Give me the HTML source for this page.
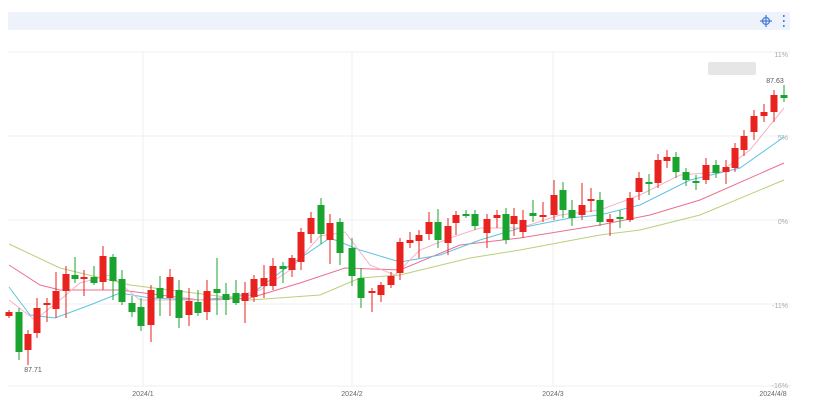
<!DOCTYPE html>
<html><head><meta charset="utf-8"><style>
html,body{margin:0;padding:0;background:#fff;width:823px;height:420px;overflow:hidden;font-family:"Liberation Sans",sans-serif}
</style></head><body>
<svg width="823" height="420" xmlns="http://www.w3.org/2000/svg" font-family="Liberation Sans, sans-serif">
<rect x="8" y="12" width="782" height="18" fill="#eef3fb"/>
<g stroke="#4a7fd6" stroke-width="1.3" fill="none">
<circle cx="766" cy="21" r="3.5"/><line x1="760" y1="21" x2="772" y2="21"/><line x1="766" y1="15" x2="766" y2="27"/>
</g>
<g fill="#4a7fd6"><rect x="783" y="15" width="1.6" height="2"/><rect x="783" y="20" width="1.6" height="2"/><rect x="783" y="25" width="1.6" height="2"/></g>
<g stroke="#efefef" stroke-width="1">
<line x1="8" y1="52" x2="790" y2="52"/><line x1="8" y1="136" x2="790" y2="136"/><line x1="8" y1="220" x2="790" y2="220"/><line x1="8" y1="304" x2="790" y2="304"/><line x1="8" y1="386" x2="790" y2="386"/>
<line x1="143" y1="52" x2="143" y2="386"/><line x1="352" y1="52" x2="352" y2="386"/><line x1="553" y1="52" x2="553" y2="386"/>
</g>
<g font-size="7" fill="#aaa" text-anchor="end">
<text x="788" y="57">11%</text><text x="788" y="140">5%</text><text x="788" y="224">0%</text><text x="788" y="308">-11%</text><text x="788" y="388">-16%</text>
</g>
<g font-size="7" fill="#666" text-anchor="middle">
<text x="143" y="396">2024/1</text><text x="352" y="396">2024/2</text><text x="553" y="396">2024/3</text><text x="773" y="396">2024/4/8</text>
</g>
<rect x="708" y="62" width="48" height="13" fill="#e6e6e6" rx="2"/>
<text x="775" y="83" font-size="7" fill="#555" text-anchor="middle">87.63</text>
<text x="33" y="372" font-size="7" fill="#555" text-anchor="middle">87.71</text>
<g fill="none" stroke-width="1">
<polyline stroke="#b9d07a" points="9,244 60,268 130,285 250,300 320,295 360,278 400,275 470,258 520,250 600,235 640,230 700,215 784,180"/>
<polyline stroke="#ec6f8f" points="9,265 40,285 60,290 120,290 200,300 250,298 300,283 345,268 400,270 460,245 520,238 600,225 650,215 700,200 784,163"/>
<polyline stroke="#5ec3e3" points="9,287 30,315 55,318 90,305 120,293 150,298 200,300 250,295 290,265 330,238 360,250 400,262 440,255 480,240 520,228 570,218 600,215 640,205 690,180 740,168 784,137"/>
<polyline stroke="#f7b3c3" points="9,300 35,320 60,300 80,283 110,275 140,300 180,300 220,300 260,290 290,270 320,236 345,232 370,265 395,275 420,250 450,238 480,228 520,228 560,215 600,210 640,195 680,175 720,172 750,150 784,108"/>
</g>
<g stroke="#e8231f" stroke-width="1">
<line x1="9" x2="9" y1="310" y2="318"/><line x1="28" x2="28" y1="330" y2="365"/><line x1="37" x2="37" y1="298" y2="338"/><line x1="47" x2="47" y1="298" y2="322"/><line x1="56" x2="56" y1="272" y2="318"/><line x1="66" x2="66" y1="266" y2="318"/><line x1="84" x2="84" y1="270" y2="296"/><line x1="103" x2="103" y1="246" y2="290"/><line x1="151" x2="151" y1="285" y2="342"/><line x1="170" x2="170" y1="269" y2="316"/><line x1="189" x2="189" y1="288" y2="326"/><line x1="207" x2="207" y1="280" y2="320"/><line x1="245" x2="245" y1="282" y2="323"/><line x1="254" x2="254" y1="275" y2="302"/><line x1="264" x2="264" y1="265" y2="298"/><line x1="273" x2="273" y1="258" y2="290"/><line x1="292" x2="292" y1="255" y2="277"/><line x1="301" x2="301" y1="228" y2="270"/><line x1="311" x2="311" y1="212" y2="243"/><line x1="330" x2="330" y1="214" y2="264"/><line x1="372" x2="372" y1="288" y2="312"/><line x1="381" x2="381" y1="282" y2="302"/><line x1="391" x2="391" y1="272" y2="288"/><line x1="400" x2="400" y1="238" y2="280"/><line x1="410" x2="410" y1="232" y2="248"/><line x1="419" x2="419" y1="230" y2="258"/><line x1="429" x2="429" y1="212" y2="240"/><line x1="448" x2="448" y1="218" y2="255"/><line x1="456" x2="456" y1="211" y2="235"/><line x1="487" x2="487" y1="214" y2="248"/><line x1="497" x2="497" y1="210" y2="228"/><line x1="514" x2="514" y1="208" y2="236"/><line x1="523" x2="523" y1="210" y2="238"/><line x1="543" x2="543" y1="202" y2="222"/><line x1="554" x2="554" y1="180" y2="220"/><line x1="582" x2="582" y1="183" y2="220"/><line x1="591" x2="591" y1="188" y2="212"/><line x1="610" x2="610" y1="214" y2="236"/><line x1="630" x2="630" y1="192" y2="222"/><line x1="639" x2="639" y1="172" y2="200"/><line x1="658" x2="658" y1="154" y2="188"/><line x1="667" x2="667" y1="150" y2="168"/><line x1="706" x2="706" y1="158" y2="184"/><line x1="726" x2="726" y1="160" y2="184"/><line x1="735" x2="735" y1="143" y2="172"/><line x1="744" x2="744" y1="130" y2="156"/><line x1="754" x2="754" y1="110" y2="140"/><line x1="764" x2="764" y1="104" y2="122"/><line x1="774" x2="774" y1="90" y2="122"/>
</g>
<g fill="#e8231f">
<rect x="5.5" y="312" width="7" height="4"/><rect x="24.5" y="334" width="7" height="16"/><rect x="33.5" y="308" width="7" height="25"/><rect x="43.5" y="303" width="7" height="2"/><rect x="52.5" y="291" width="7" height="18"/><rect x="62.5" y="274" width="7" height="17"/><rect x="80.5" y="277" width="7" height="2"/><rect x="99.5" y="256" width="7" height="26"/><rect x="147.5" y="290" width="7" height="35"/><rect x="166.5" y="277" width="7" height="21"/><rect x="185.5" y="301" width="7" height="14"/><rect x="203.5" y="291" width="7" height="21"/><rect x="241.5" y="293" width="7" height="8"/><rect x="250.5" y="279" width="7" height="18"/><rect x="260.5" y="278" width="7" height="8"/><rect x="269.5" y="266" width="7" height="20"/><rect x="288.5" y="258" width="7" height="12"/><rect x="297.5" y="232" width="7" height="30"/><rect x="307.5" y="218" width="7" height="16"/><rect x="326.5" y="223" width="7" height="17"/><rect x="368.5" y="291" width="7" height="2"/><rect x="377.5" y="285" width="7" height="10"/><rect x="387.5" y="276" width="7" height="9"/><rect x="396.5" y="242" width="7" height="31"/><rect x="406.5" y="240" width="7" height="3"/><rect x="415.5" y="235" width="7" height="6"/><rect x="425.5" y="222" width="7" height="12"/><rect x="444.5" y="226" width="7" height="17"/><rect x="452.5" y="215" width="7" height="8"/><rect x="483.5" y="219" width="7" height="14"/><rect x="493.5" y="215" width="7" height="3"/><rect x="510.5" y="216" width="7" height="8"/><rect x="519.5" y="220" width="7" height="12"/><rect x="539.5" y="215" width="7" height="2"/><rect x="550.5" y="195" width="7" height="20"/><rect x="578.5" y="205" width="7" height="10"/><rect x="587.5" y="199" width="7" height="2"/><rect x="606.5" y="219" width="7" height="3"/><rect x="626.5" y="198" width="7" height="22"/><rect x="635.5" y="178" width="7" height="14"/><rect x="654.5" y="160" width="7" height="23"/><rect x="663.5" y="157" width="7" height="4"/><rect x="702.5" y="165" width="7" height="15"/><rect x="722.5" y="167" width="7" height="5"/><rect x="731.5" y="148" width="7" height="20"/><rect x="740.5" y="136" width="7" height="14"/><rect x="750.5" y="116" width="7" height="16"/><rect x="760.5" y="112" width="7" height="4"/><rect x="770.5" y="95" width="7" height="17"/>
</g>
<g stroke="#18a42f" stroke-width="1">
<line x1="19" x2="19" y1="308" y2="360"/><line x1="75" x2="75" y1="257" y2="283"/><line x1="94" x2="94" y1="266" y2="285"/><line x1="113" x2="113" y1="254" y2="300"/><line x1="122" x2="122" y1="270" y2="305"/><line x1="132" x2="132" y1="296" y2="317"/><line x1="141" x2="141" y1="298" y2="331"/><line x1="160" x2="160" y1="276" y2="316"/><line x1="179" x2="179" y1="280" y2="328"/><line x1="198" x2="198" y1="290" y2="316"/><line x1="217" x2="217" y1="258" y2="315"/><line x1="226" x2="226" y1="283" y2="315"/><line x1="236" x2="236" y1="280" y2="305"/><line x1="283" x2="283" y1="262" y2="283"/><line x1="321" x2="321" y1="198" y2="244"/><line x1="340" x2="340" y1="218" y2="265"/><line x1="352" x2="352" y1="238" y2="286"/><line x1="361" x2="361" y1="268" y2="308"/><line x1="438" x2="438" y1="209" y2="248"/><line x1="466" x2="466" y1="210" y2="218"/><line x1="475" x2="475" y1="210" y2="230"/><line x1="506" x2="506" y1="208" y2="244"/><line x1="533" x2="533" y1="200" y2="222"/><line x1="563" x2="563" y1="182" y2="218"/><line x1="572" x2="572" y1="200" y2="226"/><line x1="600" x2="600" y1="192" y2="226"/><line x1="620" x2="620" y1="210" y2="228"/><line x1="649" x2="649" y1="174" y2="195"/><line x1="676" x2="676" y1="152" y2="178"/><line x1="686" x2="686" y1="168" y2="186"/><line x1="696" x2="696" y1="175" y2="190"/><line x1="716" x2="716" y1="160" y2="178"/><line x1="784" x2="784" y1="85" y2="102"/>
</g>
<g fill="#18a42f">
<rect x="15.5" y="312" width="7" height="40"/><rect x="71.5" y="275" width="7" height="4"/><rect x="90.5" y="277" width="7" height="6"/><rect x="109.5" y="257" width="7" height="24"/><rect x="118.5" y="279" width="7" height="23"/><rect x="128.5" y="303" width="7" height="9"/><rect x="137.5" y="307" width="7" height="19"/><rect x="156.5" y="288" width="7" height="10"/><rect x="175.5" y="290" width="7" height="28"/><rect x="194.5" y="302" width="7" height="11"/><rect x="213.5" y="289" width="7" height="4"/><rect x="222.5" y="294" width="7" height="6"/><rect x="232.5" y="293" width="7" height="10"/><rect x="279.5" y="266" width="7" height="3"/><rect x="317.5" y="205" width="7" height="29"/><rect x="336.5" y="222" width="7" height="31"/><rect x="348.5" y="248" width="7" height="28"/><rect x="357.5" y="278" width="7" height="20"/><rect x="434.5" y="222" width="7" height="18"/><rect x="462.5" y="214" width="7" height="2"/><rect x="471.5" y="214" width="7" height="12"/><rect x="502.5" y="214" width="7" height="26"/><rect x="529.5" y="213" width="7" height="3"/><rect x="559.5" y="190" width="7" height="20"/><rect x="568.5" y="210" width="7" height="8"/><rect x="596.5" y="200" width="7" height="22"/><rect x="616.5" y="217" width="7" height="2"/><rect x="645.5" y="182" width="7" height="2"/><rect x="672.5" y="157" width="7" height="15"/><rect x="682.5" y="172" width="7" height="8"/><rect x="692.5" y="181" width="7" height="2"/><rect x="712.5" y="165" width="7" height="8"/><rect x="780.5" y="95" width="7" height="3"/>
</g>
</svg>
</body></html>
